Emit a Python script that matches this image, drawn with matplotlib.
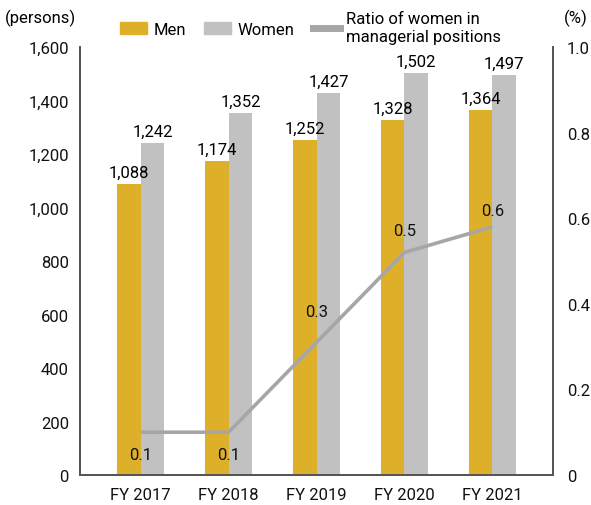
import matplotlib
matplotlib.use("Agg")
import matplotlib.pyplot as plt
import numpy as np
from matplotlib.patches import Patch
from matplotlib.lines import Line2D

# Headcount by fiscal year and share of women in managerial positions
years = ["FY 2017", "FY 2018", "FY 2019", "FY 2020", "FY 2021"]
men = [1088, 1174, 1252, 1328, 1364]
women = [1242, 1352, 1427, 1502, 1497]
ratio = [0.10, 0.10, 0.31, 0.52, 0.58]

left_ticks = [0, 200, 400, 600, 800, 1000, 1200, 1400, 1600]
right_ticks = [0, 0.2, 0.4, 0.6, 0.8, 1.0]

# label offsets (points) for the ratio annotations
ratio_offsets = [(0, -16), (0, -16), (0, 22), (0, 16), (0, 12)]

MEN_C = "#DEB02A"
WOMEN_C = "#C0C1C0"
LINE_C = "#A5A6A5"
AXIS_C = "#555555"

plt.rcParams["font.family"] = ["Roboto", "DejaVu Sans"]
plt.rcParams["font.size"] = 12

fig = plt.figure(figsize=(5.91, 5.06), dpi=100)
ax = fig.add_axes([0.1354, 0.0593, 0.8003, 0.8457])
ax2 = ax.twinx()

x = np.arange(len(years))
w = 0.27
b1 = ax.bar(x - w / 2, men, w, color=MEN_C, zorder=2)
b2 = ax.bar(x + w / 2, women, w, color=WOMEN_C, zorder=2)
ax.bar_label(b1, labels=[f"{v:,}" for v in men], padding=3, fontsize=12)
ax.bar_label(b2, labels=[f"{v:,}" for v in women], padding=3, fontsize=12)

ax.set_xlim(-0.69, len(years) - 1 + 0.69)
ax.set_ylim(0, 1600)
ax.set_yticks(left_ticks)
ax.set_yticklabels([f"{v:,}" for v in left_ticks])
ax.set_xticks(x)
ax.set_xticklabels(years)

ax2.set_ylim(0, 1.0)
ax2.set_yticks(right_ticks)
ax2.set_yticklabels(["0" if v == 0 else f"{v:.1f}" for v in right_ticks])
ax2.plot(x, ratio, color=LINE_C, lw=2.6, zorder=3, solid_capstyle="butt")
for xi, r, off in zip(x, ratio, ratio_offsets):
    ax2.annotate(f"{r:.1f}", (xi, r), xytext=off, textcoords="offset points",
                 ha="center", va="center", fontsize=12, color="#111111")

for a in (ax, ax2):
    a.spines["top"].set_visible(False)
    for s in ("left", "right", "bottom"):
        a.spines[s].set_color(AXIS_C)
        a.spines[s].set_linewidth(1.3)
    a.tick_params(length=0, colors="#111111", labelsize=12)
ax.tick_params(axis="y", pad=8)
ax.tick_params(axis="x", pad=9)
ax2.tick_params(axis="y", pad=10)

ax.set_zorder(ax2.get_zorder() - 1)
ax.patch.set_visible(False)
ax2.patch.set_visible(False)

fig.text(0.008, 0.964, "(persons)", ha="left", va="center", fontsize=12)
fig.text(0.995, 0.964, "(%)", ha="right", va="center", fontsize=12)

handles = [Patch(color=MEN_C), Patch(color=WOMEN_C),
           Line2D([0], [0], color=LINE_C, lw=5)]
labels = ["Men", "Women", "Ratio of women in\nmanagerial positions"]
fig.legend(handles, labels, ncol=3, loc="upper left",
           bbox_to_anchor=(0.178, 1.005), frameon=False, fontsize=12,
           handlelength=1.6, handleheight=0.7, handletextpad=0.4,
           columnspacing=1.1, labelspacing=0.1)

fig.savefig("out.png", dpi=100)
